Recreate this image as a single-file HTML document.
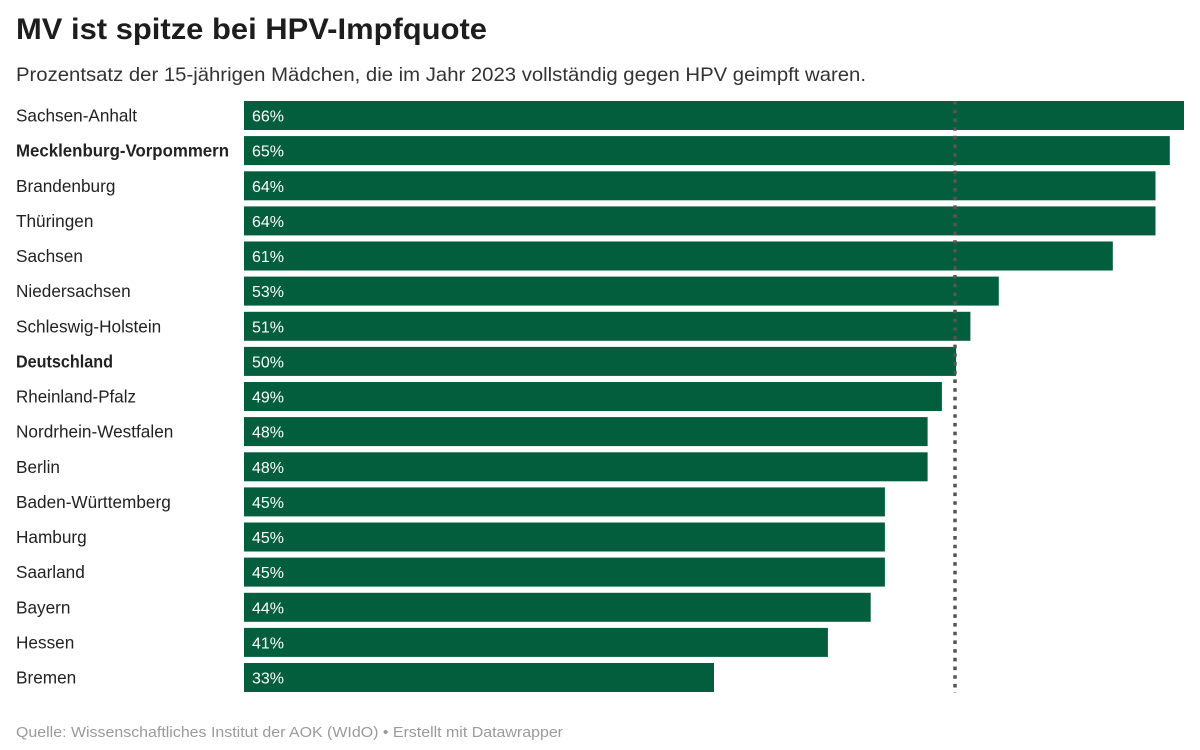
<!DOCTYPE html>
<html>
<head>
<meta charset="utf-8">
<style>
html,body{margin:0;padding:0;background:#fff;}
svg{display:block;}
text{font-family:"Liberation Sans",Arial,sans-serif;}
</style>
</head>
<body>
<svg width="1200" height="750" viewBox="0 0 1200 750" xmlns="http://www.w3.org/2000/svg">
<rect width="1200" height="750" fill="#fff"/>
<text x="16" y="39" font-size="30" font-weight="bold" fill="#1d1d1d" textLength="471" lengthAdjust="spacingAndGlyphs">MV ist spitze bei HPV-Impfquote</text>
<text x="16" y="81" font-size="19.5" fill="#333" textLength="850" lengthAdjust="spacingAndGlyphs">Prozentsatz der 15-jährigen Mädchen, die im Jahr 2023 vollständig gegen HPV geimpft waren.</text>

<g fill="#025e3d">
<rect x="244" y="101" width="940" height="29"/>
<rect x="244" y="136.1" width="925.8" height="29"/>
<rect x="244" y="171.3" width="911.5" height="29"/>
<rect x="244" y="206.4" width="911.5" height="29"/>
<rect x="244" y="241.5" width="868.8" height="29"/>
<rect x="244" y="276.6" width="754.8" height="29"/>
<rect x="244" y="311.8" width="726.4" height="29"/>
<rect x="244" y="346.9" width="712.1" height="29"/>
<rect x="244" y="382" width="697.9" height="29"/>
<rect x="244" y="417.1" width="683.6" height="29"/>
<rect x="244" y="452.3" width="683.6" height="29"/>
<rect x="244" y="487.4" width="640.9" height="29"/>
<rect x="244" y="522.5" width="640.9" height="29"/>
<rect x="244" y="557.6" width="640.9" height="29"/>
<rect x="244" y="592.8" width="626.7" height="29"/>
<rect x="244" y="627.9" width="583.9" height="29"/>
<rect x="244" y="663" width="470" height="29"/>
</g>

<line x1="955" y1="101" x2="955" y2="693" stroke="#555" stroke-width="3.5" stroke-dasharray="3.6 5.1"/>

<g font-size="17.2" fill="#222">
<text x="16" y="121.5" textLength="121" lengthAdjust="spacingAndGlyphs">Sachsen-Anhalt</text>
<text x="16" y="156.6" font-weight="bold" textLength="213" lengthAdjust="spacingAndGlyphs">Mecklenburg-Vorpommern</text>
<text x="16" y="191.8">Brandenburg</text>
<text x="16" y="226.9">Thüringen</text>
<text x="16" y="262">Sachsen</text>
<text x="16" y="297.1">Niedersachsen</text>
<text x="16" y="332.3">Schleswig-Holstein</text>
<text x="16" y="367.4" font-weight="bold" textLength="97" lengthAdjust="spacingAndGlyphs">Deutschland</text>
<text x="16" y="402.5" textLength="120" lengthAdjust="spacingAndGlyphs">Rheinland-Pfalz</text>
<text x="16" y="437.6">Nordrhein-Westfalen</text>
<text x="16" y="472.8">Berlin</text>
<text x="16" y="507.9">Baden-Württemberg</text>
<text x="16" y="543">Hamburg</text>
<text x="16" y="578.1">Saarland</text>
<text x="16" y="613.3">Bayern</text>
<text x="16" y="648.4">Hessen</text>
<text x="16" y="683.5">Bremen</text>
</g>

<g font-size="16" fill="#fff">
<text x="252" y="121.5">66%</text>
<text x="252" y="156.6">65%</text>
<text x="252" y="191.8">64%</text>
<text x="252" y="226.9">64%</text>
<text x="252" y="262">61%</text>
<text x="252" y="297.1">53%</text>
<text x="252" y="332.3">51%</text>
<text x="252" y="367.4">50%</text>
<text x="252" y="402.5">49%</text>
<text x="252" y="437.6">48%</text>
<text x="252" y="472.8">48%</text>
<text x="252" y="507.9">45%</text>
<text x="252" y="543">45%</text>
<text x="252" y="578.1">45%</text>
<text x="252" y="613.3">44%</text>
<text x="252" y="648.4">41%</text>
<text x="252" y="683.5">33%</text>
</g>

<text x="16" y="737" font-size="15" fill="#9a9a9a" textLength="547" lengthAdjust="spacingAndGlyphs">Quelle: Wissenschaftliches Institut der AOK (WIdO) • Erstellt mit Datawrapper</text>
</svg>
</body>
</html>
